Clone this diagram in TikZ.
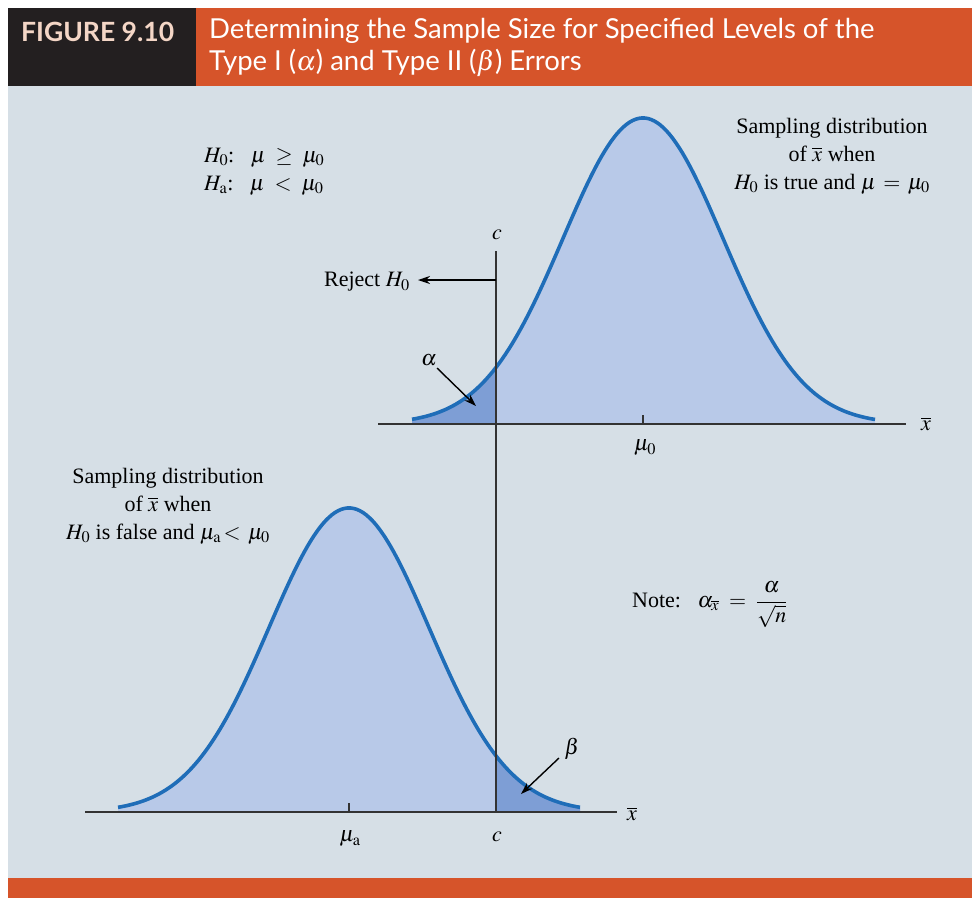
\documentclass[tikz,border=0pt]{standalone}
\usepackage{mathptmx}
\usepackage[no-math]{fontspec}
\setmainfont{Liberation Serif}
\newfontfamily\hdrfont{Lato}
\usetikzlibrary{arrows.meta}
\definecolor{hdrorange}{HTML}{D6542A}
\definecolor{hdrblack}{HTML}{231F20}
\definecolor{hdrpink}{HTML}{F4D6C6}
\definecolor{bgpanel}{HTML}{D6DFE6}
\definecolor{lightfill}{HTML}{B8C9E8}
\definecolor{darkfill}{HTML}{7E9ED5}
\definecolor{curveblue}{HTML}{1F6DB8}
\definecolor{axisgray}{HTML}{333333}
\tikzset{
  body/.style={font=\fontsize{22}{28}\selectfont, text=black, inner sep=0pt},
  curveline/.style={curveblue, line width=3.6pt},
  axisline/.style={axisgray, line width=1.8pt},
  pointer/.style={black, line width=1.4pt, -{Stealth[length=12pt,width=8pt]}},
}
\begin{document}
\begin{tikzpicture}[x=1pt,y=-1pt]
\useasboundingbox (0,0) rectangle (972,898);
\fill[white] (0,0) rectangle (972,898);
% header
\fill[hdrblack] (8,8) rectangle (196,86);
\fill[hdrorange] (196,8) rectangle (972,86);
\fill[bgpanel] (8,86) rectangle (972,878);
\fill[hdrorange] (8,878) rectangle (972,898);
\node[anchor=west, inner sep=0pt, text=hdrpink, font=\hdrfont\bfseries\fontsize{26.5}{30}\selectfont] (fig) at (21,32) {FIGURE 9.10};
\node[anchor=north west, inner sep=0pt, text=white, align=left, font=\hdrfont\fontsize{27.5}{32}\selectfont] (title) at (209,18) {Determining the Sample Size for Specified Levels of the\\Type I ($\alpha$) and Type II ($\beta$) Errors};
% top distribution fills
\fill[lightfill] (412,424) -- plot[domain=412:875, samples=120] (\x,{424-306*exp(-0.5*((\x-643)/80)^2)}) -- (875,424) -- cycle;
\fill[darkfill] (412,424) -- plot[domain=412:496, samples=40] (\x,{424-306*exp(-0.5*((\x-643)/80)^2)}) -- (496,424) -- cycle;
\draw[curveline] plot[domain=412:875, samples=150] (\x,{424-306*exp(-0.5*((\x-643)/80)^2)});
% bottom distribution fills
\fill[lightfill] (118,812) -- plot[domain=118:580, samples=120] (\x,{812-304*exp(-0.5*((\x-349)/80)^2)}) -- (580,812) -- cycle;
\fill[darkfill] (496,812) -- plot[domain=496:580, samples=40] (\x,{812-304*exp(-0.5*((\x-349)/80)^2)}) -- (580,812) -- cycle;
\draw[curveline] plot[domain=118:580, samples=150] (\x,{812-304*exp(-0.5*((\x-349)/80)^2)});
% axes
\coordinate (tA) at (378,424); \coordinate (tB) at (906,424);
\coordinate (bA) at (85,812); \coordinate (bB) at (617,812);
\draw[axisline] (tA) -- (tB);
\draw[axisline] (bA) -- (bB);
\node[body] (xbarT) at (926,424) {$\overline{x}$};
\node[body] (xbarB) at (632,814) {$\overline{x}$};
% ticks
\coordinate (t0a) at (643,424); \coordinate (t0b) at (643,415);
\coordinate (taa) at (349,812); \coordinate (tab) at (349,803);
\draw[axisline] (t0a) -- (t0b);
\draw[axisline] (taa) -- (tab);
\node[body] (mu0) at (645,448) {$\mu_0$};
\node[body] (mua) at (350,839) {$\mu_{\mathrm{a}}$};
% c line
\coordinate (cTop) at (496,251); \coordinate (cBot) at (496,812);
\draw[axisline] (cTop) -- (cBot);
\node[body] (cT) at (497,235) {$c$};
\node[body] (cB) at (497,837) {$c$};
% reject arrow
\coordinate (rejS) at (496,280); \coordinate (rejE) at (418,280);
\draw[pointer] (rejS) -- (rejE);
\node[body, anchor=east] (rej) at (410,282) {Reject $H_0$};
% alpha arrow
\node[body] (alpha) at (429,360) {$\alpha$};
\coordinate (aS) at (437,368); \coordinate (aE) at (476,406);
\draw[pointer] (aS) -- (aE);
% beta arrow
\node[body] (beta) at (572,749) {$\beta$};
\coordinate (bS) at (559,758); \coordinate (bE) at (521,794);
\draw[pointer] (bS) -- (bE);
% labels
\node[body, align=center] (topLbl) at (832,156) {Sampling distribution\\of $\overline{x}$ when\\$H_0$ is true and $\mu\,=\,\mu_0$};
\node[body, align=center] (botLbl) at (168,506) {Sampling distribution\\of $\overline{x}$ when\\$H_0$ is false and $\mu_{\mathrm{a}}\!<\,\mu_0$};
\node[body, align=left, anchor=west] (hyp) at (204,172) {$H_0$:\ \ \ $\mu \;\geq\; \mu_0$\\$H_{\mathrm{a}}$:\ \ \ $\mu \;<\; \mu_0$};
\node[body, anchor=west] (note) at (632,605) {Note:\ \ \ $\alpha_{\overline{x}} \;=\; {\displaystyle\frac{\;\alpha\;}{\sqrt{n}}}$};
\end{tikzpicture}
\end{document}
